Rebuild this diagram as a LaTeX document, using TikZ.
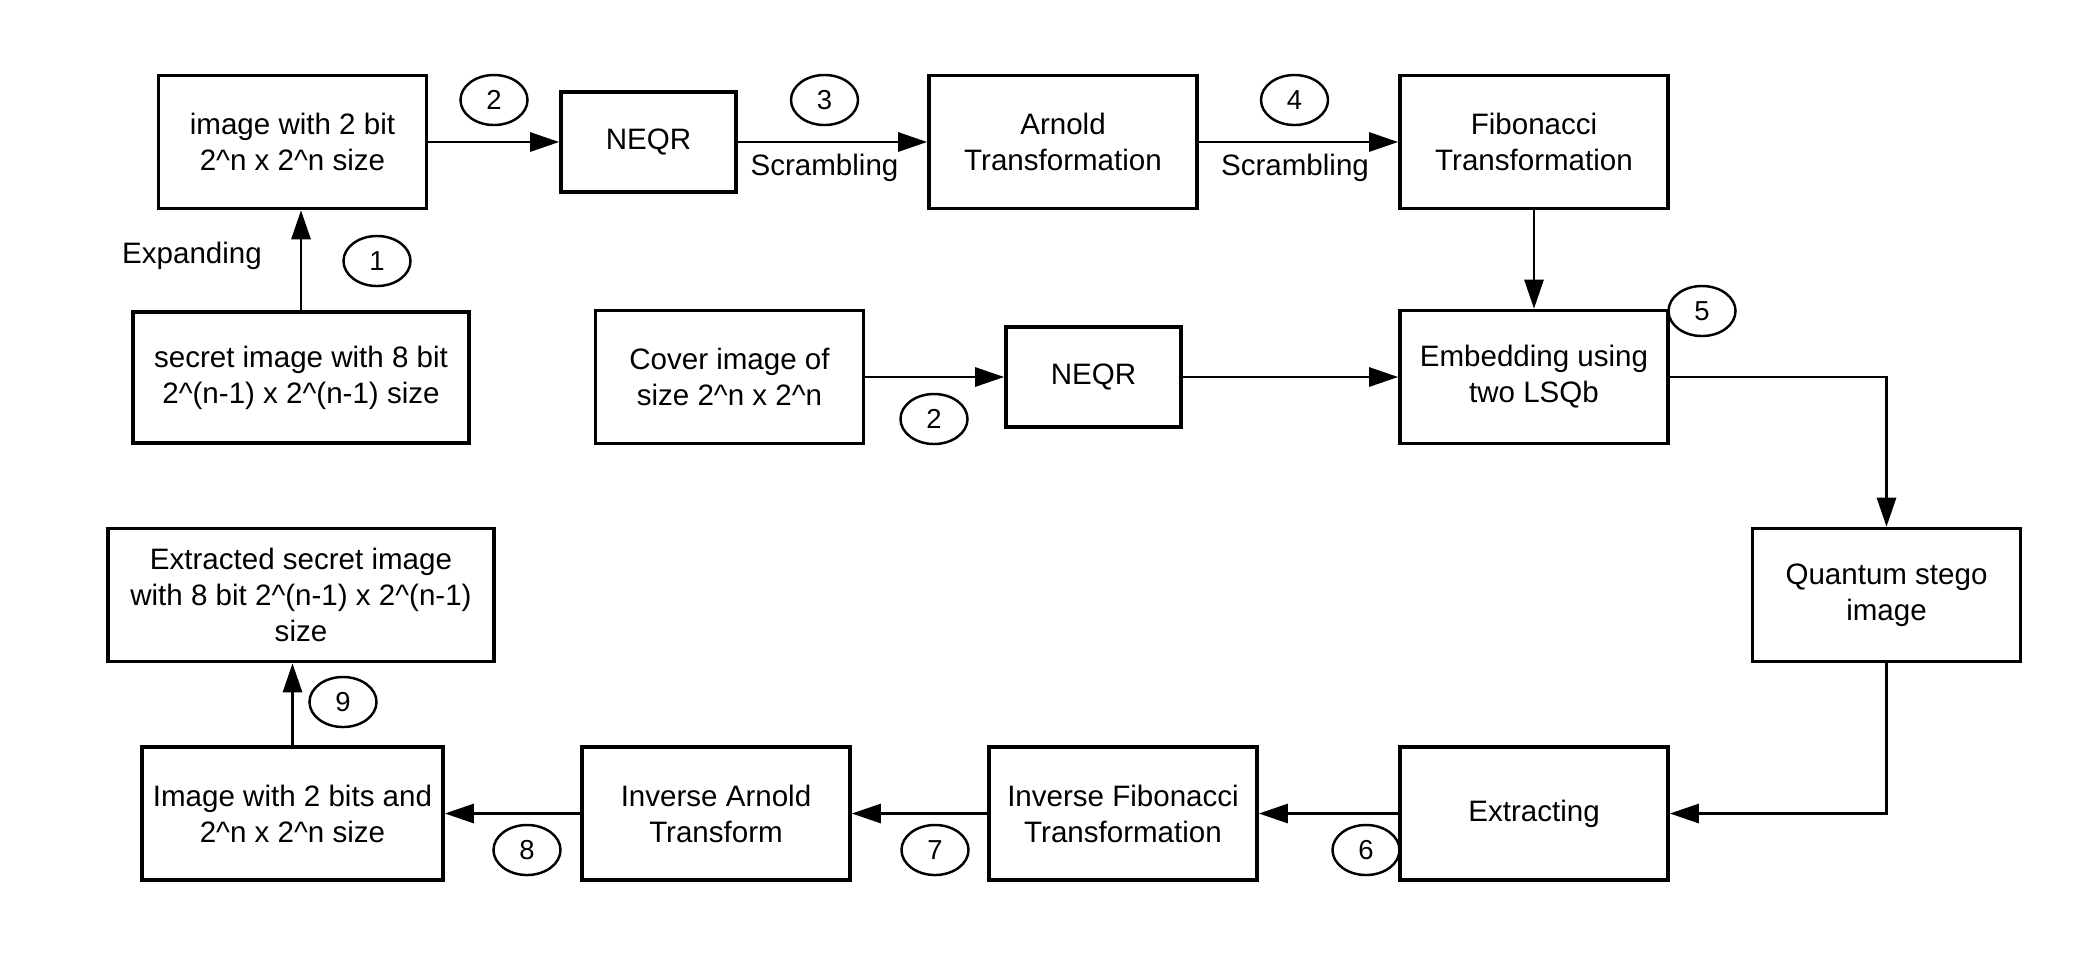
\documentclass[tikz,border=0pt]{standalone}
\usepackage{fontspec}
\setmainfont{Liberation Sans}
\usetikzlibrary{arrows.meta, shapes.geometric}
\newcommand{\upc}{\textasciicircum}

\begin{document}
\begin{tikzpicture}[x=0.01cm, y=-0.01cm, >={Triangle[length=2.9mm, width=1.9mm]},
  block/.style={draw, line width=1pt, minimum width=2.68cm, minimum height=1.33cm, align=center, inner sep=2pt, font=\fontsize{8.4}{10.2}\selectfont},
  smallblock/.style={block, minimum width=1.75cm, minimum height=1.0cm},
  stepnum/.style={draw, ellipse, line width=0.7pt, minimum width=0.67cm, minimum height=0.5cm, inner sep=0pt, font=\fontsize{7.8}{9}\selectfont},
  arrowlabel/.style={draw=none, fill=none, font=\fontsize{8.4}{10.2}\selectfont},
  flow/.style={->, line width=0.8pt}]

  \useasboundingbox (0,0) rectangle (2100,960);

  % Embedding chain (top rows)
  \node[block] (imgtwo) at (292.5,142) {image with 2 bit\\2\upc n x 2\upc n size};
  \node[smallblock] (neqrA) at (648.5,142) {NEQR};
  \node[block] (arnold) at (1063,142) {Arnold\\Transformation};
  \node[block] (fib) at (1534,142) {Fibonacci\\Transformation};
  \node[block, minimum width=3.36cm, minimum height=1.31cm] (secret) at (301,377.5) {secret image with 8 bit\\2\upc(n-1) x 2\upc(n-1) size};
  \node[block] (cover) at (729.5,377) {Cover image of\\size 2\upc n x 2\upc n};
  \node[smallblock] (neqrB) at (1093.5,377) {NEQR};
  \node[block] (embed) at (1534,377) {Embedding using\\two LSQb};

  % The stego image
  \node[block] (stego) at (1886.5,595) {Quantum stego\\image};

  % Extraction chain (bottom rows)
  \node[block] (extracting) at (1534,813.5) {Extracting};
  \node[block] (invfib) at (1123,813.5) {Inverse Fibonacci\\Transformation};
  \node[block] (invarnold) at (716,813.5) {Inverse Arnold\\Transform};
  \node[block, minimum width=3.01cm] (imgbits) at (292.5,813.5) {Image with 2 bits and\\2\upc n x 2\upc n size};
  \node[block, minimum width=3.86cm] (extracted) at (301,595) {Extracted secret image\\with 8 bit 2\upc(n-1) x 2\upc(n-1)\\size};

  % Step numbers
  \node[stepnum] (s1) at (377,261) {1};
  \node[stepnum] (s2a) at (494,100) {2};
  \node[stepnum] (s3) at (824.5,100) {3};
  \node[stepnum] (s4) at (1294.5,100) {4};
  \node[stepnum] (s2b) at (934,419) {2};
  \node[stepnum] (s5) at (1702,311) {5};
  \node[stepnum] (s6) at (1366,850) {6};
  \node[stepnum] (s7) at (935,850) {7};
  \node[stepnum] (s8) at (527,850) {8};
  \node[stepnum] (s9) at (343,702) {9};

  % Arrow labels
  \node[arrowlabel] (lexp) at (192,256) {Expanding};
  \node[arrowlabel] (lscrA) at (824.5,168) {Scrambling};
  \node[arrowlabel] (lscrB) at (1295,168) {Scrambling};

  % Connections
  \draw[flow] (secret.north) -- (secret.north |- imgtwo.south);
  \draw[flow] (imgtwo) -- (neqrA);
  \draw[flow] (neqrA) -- (arnold);
  \draw[flow] (arnold) -- (fib);
  \draw[flow] (fib) -- (embed);
  \draw[flow] (cover) -- (neqrB);
  \draw[flow] (neqrB) -- (embed);
  \draw[flow] (embed) -| (stego);
  \draw[flow] (stego) |- (extracting);
  \draw[flow] (extracting) -- (invfib);
  \draw[flow] (invfib) -- (invarnold);
  \draw[flow] (invarnold) -- (imgbits);
  \draw[flow] (imgbits.north) -- (imgbits.north |- extracted.south);

\end{tikzpicture}
\end{document}
